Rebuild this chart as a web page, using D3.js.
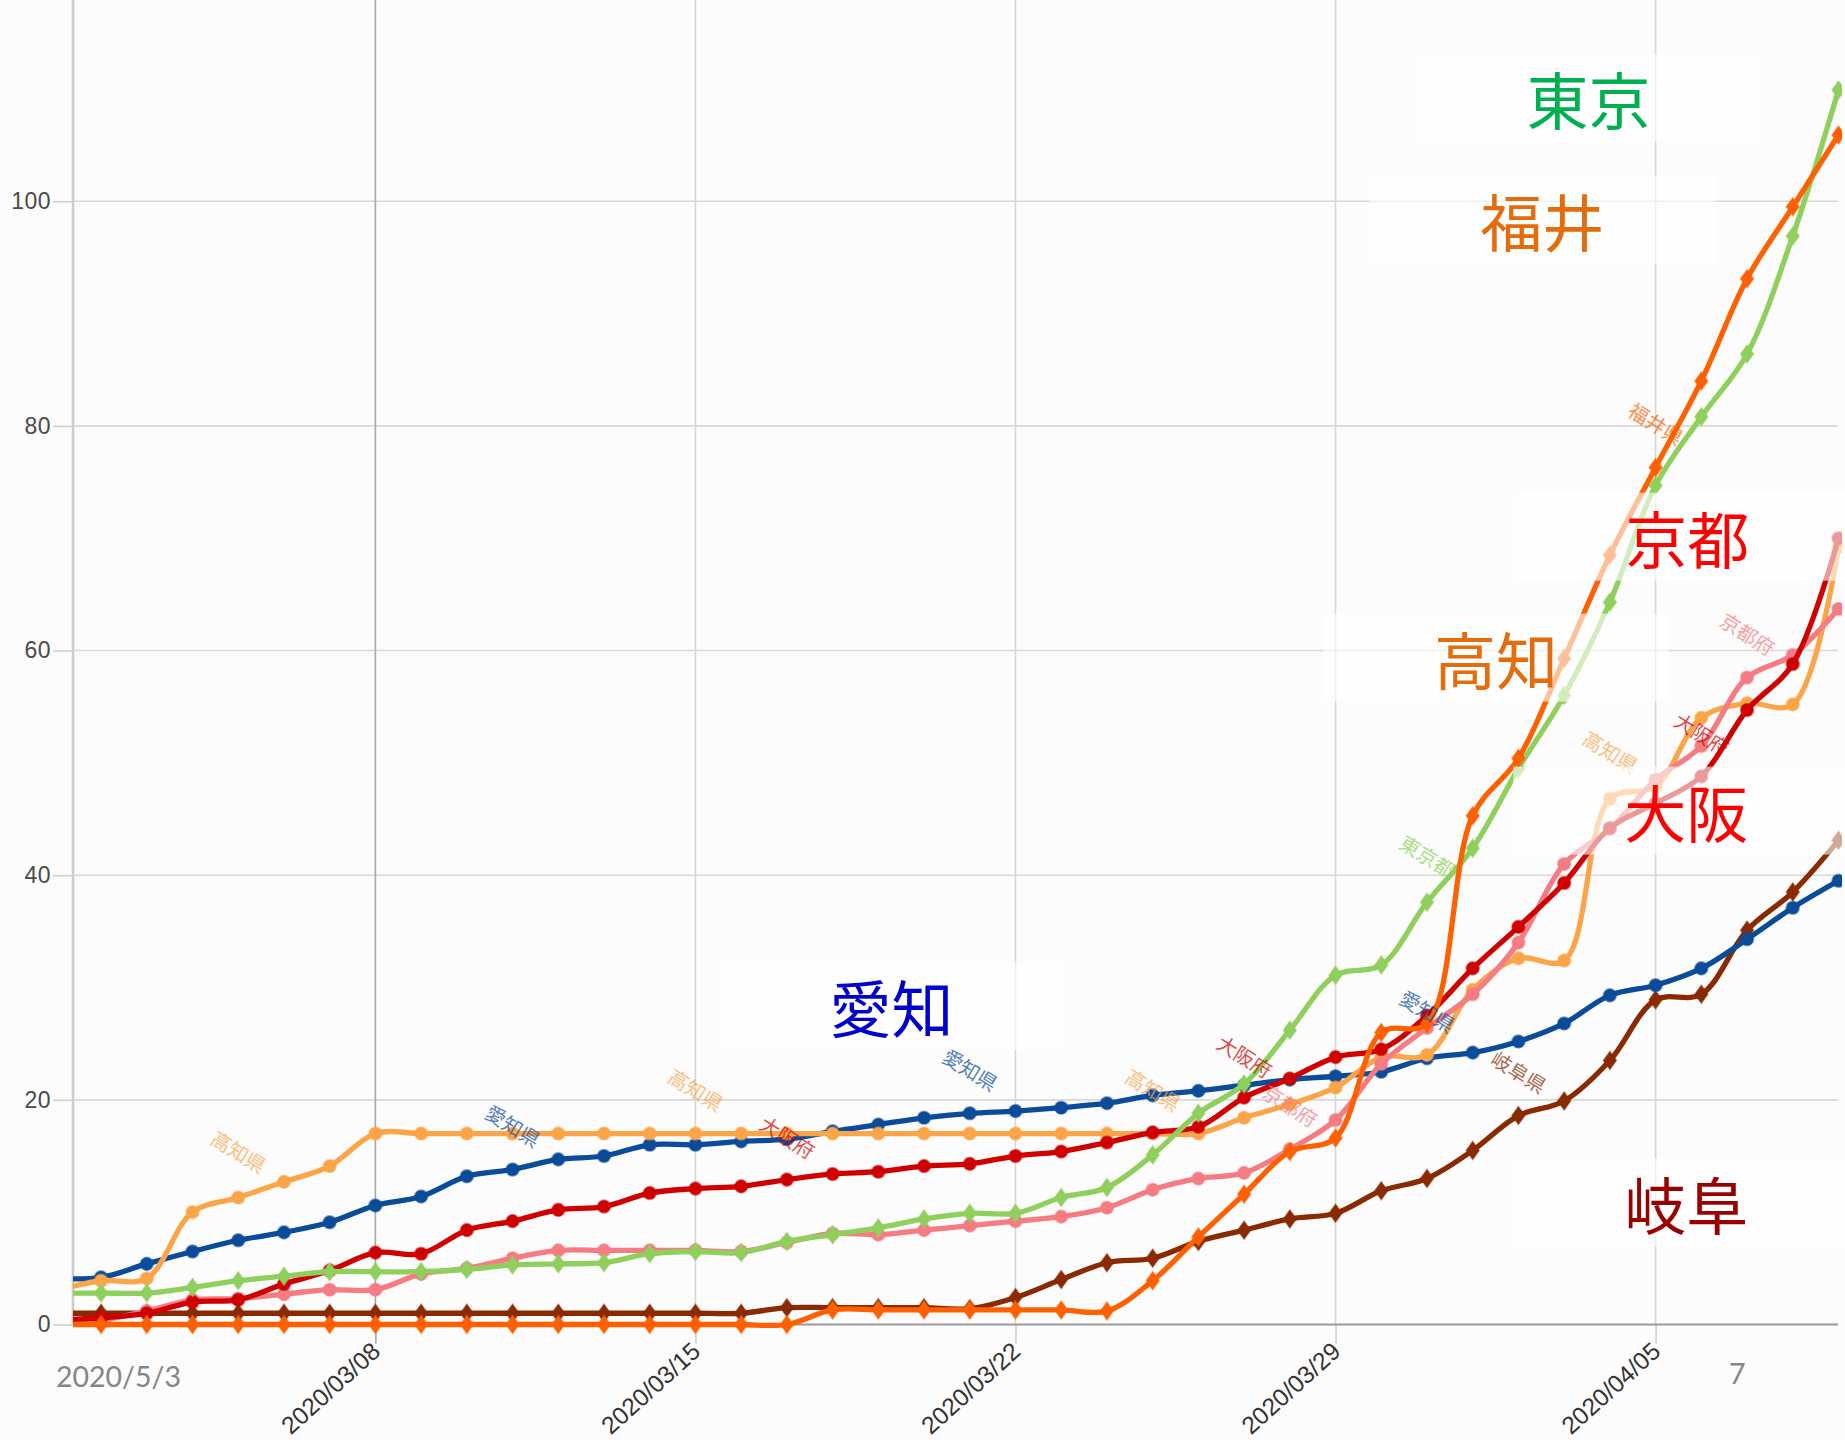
<!DOCTYPE html>
<html><head><meta charset="utf-8">
<script src="https://cdn.jsdelivr.net/npm/d3@7"></script>
<style>html,body{margin:0;padding:0;background:#fcfcfc;}svg{display:block}</style>
</head><body>
<svg id="chart" width="1845" height="1440"></svg>
<script>
// ---------- data ----------
const dates = ["2020-03-01","2020-03-02","2020-03-03","2020-03-04","2020-03-05","2020-03-06","2020-03-07","2020-03-08","2020-03-09","2020-03-10",
"2020-03-11","2020-03-12","2020-03-13","2020-03-14","2020-03-15","2020-03-16","2020-03-17","2020-03-18","2020-03-19","2020-03-20",
"2020-03-21","2020-03-22","2020-03-23","2020-03-24","2020-03-25","2020-03-26","2020-03-27","2020-03-28","2020-03-29","2020-03-30",
"2020-03-31","2020-04-01","2020-04-02","2020-04-03","2020-04-04","2020-04-05","2020-04-06","2020-04-07","2020-04-08","2020-04-09"];

const aichi = [4.1,4.2,5.4,6.5,7.5,8.2,9.1,10.6,11.4,13.2,13.8,14.7,15.0,16.0,16.0,16.3,16.5,17.2,17.8,18.4,
18.8,19.0,19.3,19.7,20.4,20.8,21.3,21.8,22.1,22.5,23.7,24.2,25.2,26.8,29.3,30.2,31.7,34.3,37.1,39.5];
const kochi = [3.0,3.9,4.1,10.0,11.3,12.7,14.1,17.0,17.0,17.0,17.0,17.0,17.0,17.0,17.0,17.0,17.0,17.0,17.0,17.0,
17.0,17.0,17.0,17.0,17.0,17.0,18.4,19.6,21.1,23.8,24.0,29.8,32.6,32.4,46.8,47.9,54.0,55.3,55.2,69.2];
const osaka = [0.4,0.6,1.0,2.0,2.2,3.6,4.8,6.4,6.3,8.4,9.2,10.2,10.5,11.7,12.1,12.3,12.9,13.4,13.6,14.1,
14.3,15.0,15.4,16.2,17.1,17.6,20.2,21.9,23.8,24.5,27.5,31.7,35.4,39.3,44.2,46.4,48.8,54.7,58.8,70.0];
const kyoto = [0.3,0.4,1.2,2.2,2.3,2.7,3.1,3.1,4.5,5.0,5.9,6.6,6.6,6.6,6.6,6.5,7.3,8.1,8.0,8.4,
8.8,9.2,9.6,10.4,12.0,13.0,13.5,15.6,18.2,23.2,26.4,29.4,34.0,41.0,44.1,48.5,51.5,57.6,59.6,63.7];
const tokyo = [2.8,2.8,2.8,3.3,3.9,4.3,4.7,4.7,4.7,4.9,5.3,5.4,5.5,6.3,6.5,6.4,7.4,8.0,8.6,9.4,
9.9,9.9,11.3,12.2,15.1,18.8,21.4,26.2,31.1,32.0,37.6,42.4,49.5,56.0,64.3,74.7,80.8,86.4,96.9,109.9];
const fukui = [0,0,0,0,0,0,0,0,0,0,0,0,0,0,0,0,0,1.3,1.3,1.3,
1.3,1.3,1.3,1.2,3.9,7.8,11.6,15.4,16.6,26.0,26.8,45.3,50.4,59.3,68.5,76.3,84.0,93.1,99.5,105.9];
const gifu = [1.0,1.0,1.0,1.0,1.0,1.0,1.0,1.0,1.0,1.0,1.0,1.0,1.0,1.0,1.0,1.0,1.5,1.5,1.5,1.5,
1.4,2.4,4.0,5.5,5.9,7.4,8.4,9.4,9.9,11.9,13.0,15.5,18.6,19.9,23.5,28.9,29.4,35.1,38.5,43.1];

const seriesNames  = ["岐阜県","愛知県","高知県","京都府","大阪府","東京都","福井県"];
const seriesValues = [gifu, aichi, kochi, kyoto, osaka, tokyo, fukui];
const seriesColors = ["#8a2a02","#0a4c9a","#fca548","#f47c82","#d00000","#8fd05c","#ff6000"];
const seriesShapes = ["diamond","circle","circle","circle","circle","diamond","diamond"];

const yTicks = [0,20,40,60,80,100];
const xTicks = ["2020-03-08","2020-03-15","2020-03-22","2020-03-29","2020-04-05"];

// small rotated series notes (day offset from 2020-03-01, value)
const noteNames  = ["高知県","愛知県","高知県","大阪府","愛知県","高知県","大阪府","京都府","愛知県","岐阜県","東京都","高知県","大阪府","京都府","福井県"];
const noteDays   = [4,10,14,16,20,24,26,27,30,32,30,34,36,37,35];
const noteValues = [15.3,17.6,20.8,16.6,22.6,20.8,23.8,19.4,27.8,22.4,41.6,50.9,52.5,61.4,80.1];

// big call-out labels (day offset, value)
const bigTexts  = ["東京","福井","京都","高知","大阪","岐阜","愛知"];
const bigColors = ["#00b050","#e46c0a","#ff0000","#e46c0a","#ff0000","#990000","#0000cc"];
const bigDays   = [33.53,32.52,35.69,31.51,35.67,35.67,18.29];
const bigValues = [108.86,98.0,69.78,59.01,45.39,10.50,27.99];

// ---------- chart ----------
(function () {
const parse = d3.utcParse("%Y-%m-%d");
const dateObjs = dates.map(parse);
const svg = d3.select("#chart");
const W = 1845, H = 1440;
const pL = 73, pR = 1838, pT = 0, pB = 1324.5;

const x = d3.scaleUtc().domain([parse("2020-03-08"), parse("2020-04-05")]).range([375.4, 1655.6]);
const y = d3.scaleLinear().domain([0, 100]).range([pB, 201.2]);
const d0 = parse("2020-03-01");
const dayX = d => x(new Date(d0.getTime() + d * 86400000));

svg.append("rect").attr("width", W).attr("height", H).attr("fill", "#fcfcfc");

svg.append("g").selectAll("line").data(yTicks.filter(t => t > 0)).join("line")
  .attr("x1", pL).attr("x2", pR).attr("y1", d => y(d)).attr("y2", d => y(d))
  .attr("stroke", "#d8d8d8").attr("stroke-width", 1.6);
svg.append("g").selectAll("line").data(xTicks).join("line")
  .attr("x1", d => x(parse(d))).attr("x2", d => x(parse(d)))
  .attr("y1", pT).attr("y2", pB)
  .attr("stroke", (d, i) => i === 0 ? "#a8a8a8" : "#d6d6d6").attr("stroke-width", 1.6);

svg.append("line").attr("x1", pL).attr("x2", pL).attr("y1", pT).attr("y2", pB)
  .attr("stroke", "#cccccc").attr("stroke-width", 2.5);

const gy = svg.append("g").attr("transform", `translate(${pL},0)`)
  .call(d3.axisLeft(y).tickValues(yTicks).tickSize(20).tickPadding(2));
gy.select(".domain").remove();
gy.selectAll(".tick line").attr("stroke", "#d0d0d0").attr("stroke-width", 1.6);
gy.selectAll(".tick text").attr("font-family", "Liberation Sans, Arial, sans-serif")
  .attr("font-size", 23).attr("fill", "#4a4a4a").attr("letter-spacing", 0.5);

const gx = svg.append("g").attr("transform", `translate(0,${pB})`)
  .call(d3.axisBottom(x).tickValues(xTicks.map(parse)).tickSize(19).tickFormat(d3.utcFormat("%Y/%m/%d")));
gx.select(".domain").remove();
gx.selectAll(".tick line").attr("stroke", (d, i) => i === 0 ? "#a8a8a8" : "#cfcfcf").attr("stroke-width", 1.6);
gx.selectAll(".tick text")
  .attr("font-family", "Liberation Sans, Arial, sans-serif").attr("font-size", 24.5).attr("fill", "#333333")
  .attr("text-anchor", "end").attr("x", 0).attr("y", 0).attr("dy", 0)
  .attr("transform", "translate(6,29) rotate(-42)");

svg.append("line").attr("x1", pL).attr("x2", pR).attr("y1", pB).attr("y2", pB)
  .attr("stroke", "#9a9a9a").attr("stroke-width", 2.2);

svg.append("text").attr("x", 56).attr("y", 1387).text("2020/5/3")
  .attr("font-family", "Lato, Open Sans, sans-serif").attr("font-size", 28.5).attr("fill", "#858585");
svg.append("text").attr("x", 1729).attr("y", 1384).text("7")
  .attr("font-family", "Lato, Open Sans, sans-serif").attr("font-size", 28.5).attr("fill", "#858585");

svg.append("clipPath").attr("id", "plotclip").append("rect")
  .attr("x", pL).attr("y", 0).attr("width", W - pL - 3).attr("height", pB + 12);

const plot = svg.append("g").attr("clip-path", "url(#plotclip)");
const line = d3.line().x((d, i) => x(dateObjs[i])).y(d => y(d)).curve(d3.curveCatmullRom.alpha(0.5));
const diamond = "M0,-9L6.5,0L0,9L-6.5,0Z";

seriesValues.forEach((vals, si) => {
  const col = seriesColors[si];
  const g = plot.append("g");
  g.append("path").datum(vals).attr("d", line).attr("fill", "none")
    .attr("stroke", col).attr("stroke-width", 5.3).attr("stroke-linejoin", "round").attr("stroke-linecap", "round");
  if (seriesShapes[si] === "circle") {
    g.selectAll("circle").data(vals).join("circle")
      .attr("cx", (d, i) => x(dateObjs[i])).attr("cy", d => y(d)).attr("r", 6.3)
      .attr("fill", col).attr("stroke", col).attr("stroke-opacity", 0.5).attr("stroke-width", 2);
  } else {
    g.selectAll("path.m").data(vals).join("path").attr("class", "m")
      .attr("d", diamond).attr("transform", (d, i) => `translate(${x(dateObjs[i])},${y(d)})`)
      .attr("fill", col).attr("stroke", col).attr("stroke-opacity", 0.5).attr("stroke-width", 1.5);
  }
});

svg.append("g").selectAll("text").data(noteNames).join("text")
  .attr("transform", (d, i) => `translate(${dayX(noteDays[i])},${y(noteValues[i])}) rotate(32)`)
  .attr("text-anchor", "middle").attr("dy", "0.35em")
  .attr("font-family", "Noto Sans CJK JP, sans-serif").attr("font-size", 20)
  .attr("fill", d => seriesColors[seriesNames.indexOf(d)]).attr("opacity", 0.7)
  .text(d => d);

const big = svg.append("g");
bigTexts.forEach((t, i) => {
  const cx = dayX(bigDays[i]), cy = y(bigValues[i]);
  big.append("rect").attr("x", cx - 173).attr("y", cy - 48).attr("width", 346).attr("height", 88)
    .attr("fill", "#ffffff").attr("opacity", 0.6);
});
bigTexts.forEach((t, i) => {
  const cx = dayX(bigDays[i]), cy = y(bigValues[i]);
  big.append("text").attr("x", cx).attr("y", cy + 23).attr("text-anchor", "middle")
    .attr("font-family", "Noto Sans CJK JP, sans-serif").attr("font-size", 62)
    .attr("fill", bigColors[i]).text(t);
});
})();
</script>
</body></html>
